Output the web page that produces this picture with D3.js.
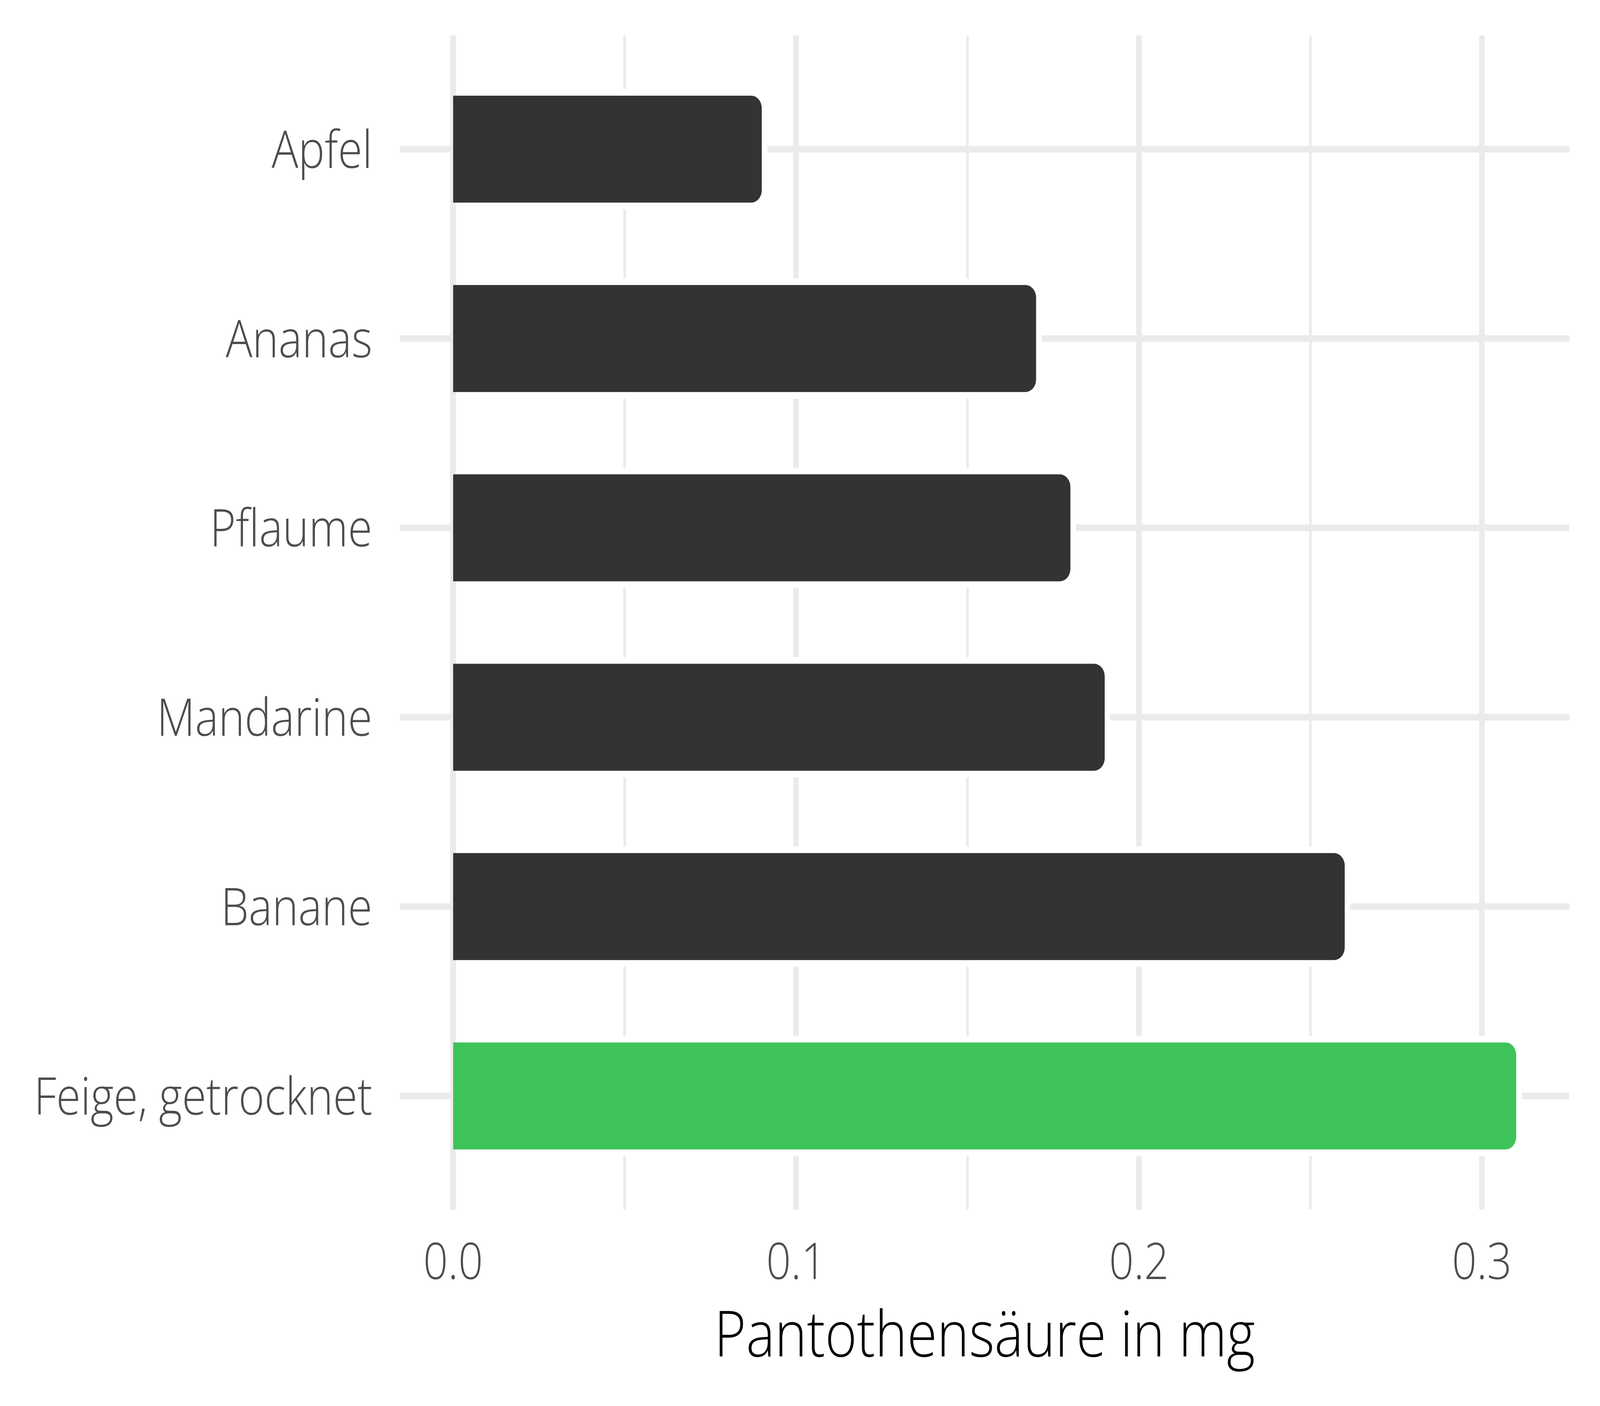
<!DOCTYPE html>
<html>
<head>
<meta charset="utf-8">
<script src="https://cdn.jsdelivr.net/npm/d3@7"></script>
<style>
  html, body { margin: 0; padding: 0; background: #fff; overflow: hidden; }
  svg { display: block; width: 100vw; height: 100vh; }
  text { font-family: "Open Sans", sans-serif; font-weight: 300; }
</style>
</head>
<body>
<svg id="chart"></svg>
<script>
// data
var categories = ["Apfel", "Ananas", "Pflaume", "Mandarine", "Banane", "Feige, getrocknet"];
var values = [0.09, 0.17, 0.18, 0.19, 0.26, 0.31];
var highlight = ["Feige, getrocknet"];
var majorTicks = [0, 0.1, 0.2, 0.3];
var minorTicks = [0.05, 0.15, 0.25];
var xTitle = "Pantothensäure in mg";

// drawn in a 4800x3600 frame, stretched onto whatever the window gives
var width = 4800, height = 3600;
var panel = { left: 1200, right: 4708, top: 91, bottom: 3097 };

var svg = d3.select("#chart")
    .attr("viewBox", [0, 0, width, height])
    .attr("preserveAspectRatio", "none");

var maxV = d3.max(values);
var x = d3.scaleLinear()
    .domain([-0.05 * maxV, maxV * 1.05])
    .range([panel.left, panel.right]);

var y = d3.scalePoint()
    .domain(categories)
    .range([panel.top, panel.bottom])
    .padding(0.6);

var barH = y.step() * 0.565;
var gap = 17;

// grid
var grid = svg.append("g");
grid.selectAll("line.minor")
  .data(minorTicks)
  .join("line")
    .attr("x1", d => x(d)).attr("x2", d => x(d))
    .attr("y1", panel.top).attr("y2", panel.bottom)
    .attr("stroke", "#ebebeb").attr("stroke-width", 8);
grid.selectAll("line.major")
  .data(majorTicks)
  .join("line")
    .attr("x1", d => x(d)).attr("x2", d => x(d))
    .attr("y1", panel.top).attr("y2", panel.bottom)
    .attr("stroke", "#ebebeb").attr("stroke-width", 17);
grid.selectAll("line.hz")
  .data(categories)
  .join("line")
    .attr("x1", panel.left).attr("x2", panel.right)
    .attr("y1", d => y(d)).attr("y2", d => y(d))
    .attr("stroke", "#ebebeb").attr("stroke-width", 17);

function barPath(x0, x1, y0, h, r) {
  r = Math.min(r, (x1 - x0));
  return "M" + x0 + "," + y0 +
    "H" + (x1 - r) +
    "A" + r + "," + r + " 0 0 1 " + x1 + "," + (y0 + r) +
    "V" + (y0 + h - r) +
    "A" + r + "," + r + " 0 0 1 " + (x1 - r) + "," + (y0 + h) +
    "H" + x0 + "Z";
}

var data = categories.map((c, i) => ({ name: c, value: values[i] }));

// white halo round bars
svg.append("g").selectAll("path")
  .data(data)
  .join("path")
    .attr("d", d => barPath(x(0), x(d.value) + gap, y(d.name) - barH / 2 - gap, barH + 2 * gap, 32 + gap))
    .attr("fill", "#fff");

// zero line back on top
svg.append("line")
    .attr("x1", x(0)).attr("x2", x(0))
    .attr("y1", panel.top).attr("y2", panel.bottom)
    .attr("stroke", "#ebebeb").attr("stroke-width", 17);

svg.append("g").selectAll("path")
  .data(data)
  .join("path")
    .attr("d", d => barPath(x(0), x(d.value), y(d.name) - barH / 2, barH, 32))
    .attr("fill", d => highlight.includes(d.name) ? "#3ec35a" : "#333333");

// y labels
svg.append("g").selectAll("text")
  .data(categories)
  .join("text")
    .attr("x", 1117)
    .attr("y", d => y(d))
    .attr("dy", "0.36em")
    .attr("text-anchor", "end")
    .attr("font-size", 133)
    .attr("fill", "#4d4d4d")
    .text(d => d);

// x tick labels
svg.append("g").selectAll("text")
  .data(majorTicks)
  .join("text")
    .attr("x", d => x(d))
    .attr("y", 3275)
    .attr("text-anchor", "middle")
    .attr("font-size", 130)
    .attr("fill", "#4d4d4d")
    .text(d => d3.format(".1f")(d));

svg.append("text")
    .attr("x", (panel.left + panel.right) / 2)
    .attr("y", 3473)
    .attr("text-anchor", "middle")
    .attr("font-size", 163)
    .attr("fill", "#000")
    .text(xTitle);
</script>
</body>
</html>
